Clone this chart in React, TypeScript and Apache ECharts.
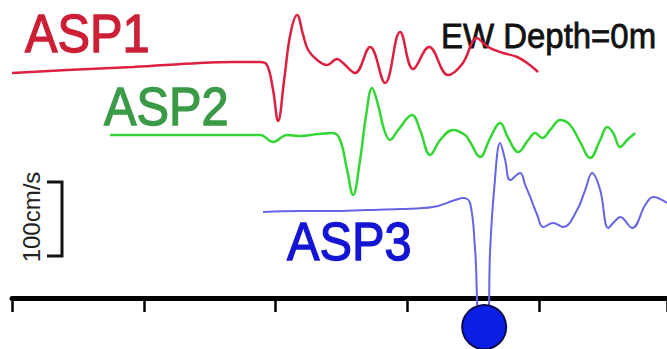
import React, { useEffect, useRef } from "react";
import * as echarts from "echarts";

// Time (s) and velocity (cm/s) samples, per station
const asp1Time = [0, 4.17, 9.18, 14.27, 16.77, 18.82, 19.35, 19.81, 20.19, 20.65, 21.11, 21.63, 22.09, 22.47, 23.15, 23.91, 24.67, 25.12, 26.03, 27.17, 28.31, 29.45, 30.44, 31.65, 33.09, 34.16, 35.29, 35.75, 36.28, 37.27, 38.33, 39.09, 39.92];
const asp1Vel = [-8.9, -5.0, -1.1, 4.2, 5.5, 5.5, 1.6, -31.3, -72.1, -18.2, 41.1, 67.4, 41.1, 21.3, 8.2, 1.6, 9.5, 4.2, -8.9, 25.3, -22.1, 44.9, -3.7, 25.3, -11.6, 2.9, 37.1, 30.5, 23.9, 17.4, 12.1, 4.2, -7.6];

const asp2Time = [7.44, 12.75, 18.82, 19.81, 20.87, 21.86, 23.23, 24.36, 24.9, 25.43, 25.88, 26.41, 26.87, 27.32, 27.78, 28.24, 28.69, 29.3, 30.36, 30.96, 31.73, 32.49, 33.47, 34.38, 34.76, 35.52, 36.28, 37.04, 37.65, 38.41, 39.17, 39.7, 40.23, 40.84, 41.59, 42.35, 43.11, 43.87, 44.63, 45.16, 45.62, 46.15, 46.68, 47.29];
const asp2Vel = [-0.5, -0.5, -0.5, -9.7, -0.5, -1.8, 0.8, 2.1, -7.1, -46.6, -79.5, -33.4, 25.8, 61.3, 38.9, 6.1, -7.1, 6.1, 25.8, 6.1, -26.8, -7.1, 6.1, -0.5, -9.7, -29.5, -4.5, 15.3, -4.5, -22.9, -7.1, 2.1, -4.5, 6.1, 19.2, 12.6, -9.7, -30.8, -7.1, 10.0, 2.1, -16.3, -7.1, 2.1];

const asp3Time = [19.05, 21.86, 24.36, 26.87, 29.45, 31.95, 33.62, 34.23, 34.76, 35.14, 35.52, 36.05, 36.28, 36.58, 37.04, 37.42, 37.8, 38.56, 38.94, 39.32, 39.85, 40.3, 41.06, 41.82, 42.88, 43.49, 44.02, 44.63, 45.24, 45.69, 46.15, 47.06, 48.05, 48.65, 49.7];
const asp3Vel = [-4.9, -3.6, -3.6, -2.2, -0.9, 1.7, 10.9, 13.6, 7.0, -54.9, -150.0, -150.0, -54.9, 24.1, 85.9, 63.6, 37.2, 46.4, 30.7, 14.9, -8.8, -24.6, -19.3, -24.6, -2.2, 24.1, 46.4, 24.1, -25.9, -18.0, -11.4, -25.9, 4.3, 14.9, 7.0];

// Display offsets (cm/s) that stack the traces
const stationNames = ["ASP1", "ASP2", "ASP3"];
const stationOffsets = [305, 215, 118];

// Marker below the axis
const markerTime = [35.83];
const markerVel = [-38.2];

const X_MIN = 0;
const X_MAX = 49.7;
const X_INTERVAL = 10;
const Y_MIN = 0;
const Y_MAX = 392.1;

const traceColors = ["#dd2040", "#33d633", "#6464e6"];
const labelColors = ["#cc1f36", "#3a9a46", "#1414d4"];

function build(times: number[], vels: number[], off: number) {
  return times.map((t, i) => [t, vels[i] + off]);
}

export default function App() {
  const ref = useRef<HTMLDivElement>(null);
  useEffect(() => {
    const chart = echarts.init(ref.current!, null, { renderer: "svg" });
    const traces = [
      [asp1Time, asp1Vel],
      [asp2Time, asp2Vel],
      [asp3Time, asp3Vel],
    ];
    const series: any[] = traces.map((tr, i) => ({
      type: "line",
      name: stationNames[i],
      data: build(tr[0], tr[1], stationOffsets[i]),
      showSymbol: false,
      smooth: 0.4,
      clip: false,
      lineStyle: { color: traceColors[i], width: i === 2 ? 2 : 2.5 },
      z: 3,
    }));
    series.push({
      type: "scatter",
      data: markerTime.map((t, i) => [t, markerVel[i]]),
      symbol: "circle",
      symbolSize: 44,
      clip: false,
      itemStyle: { color: "#0a1ee6", borderColor: "#0b0b4a", borderWidth: 2, opacity: 1 },
      z: 5,
    });
    const font = "'Liberation Sans', Arial, Helvetica, sans-serif";
    const labelPos = [
      [25, 34],
      [104, 107],
      [287, 242],
    ];
    const graphic: any[] = stationNames.map((n, i) => ({
      type: "text",
      x: labelPos[i][0],
      y: labelPos[i][1],
      scaleX: 0.92,
      z: 10,
      style: {
        text: n,
        fontSize: 53,
        fontFamily: font,
        fill: labelColors[i],
        stroke: labelColors[i],
        lineWidth: 1.3,
        align: "left",
        verticalAlign: "middle",
      },
    }));
    graphic.push(
      {
        type: "text",
        x: 441,
        y: 35,
        scaleX: 0.915,
        z: 1,
        style: {
          text: "EW Depth=0m",
          fontSize: 36,
          fontFamily: font,
          fill: "#111",
          stroke: "#111",
          lineWidth: 0.8,
          align: "left",
          verticalAlign: "middle",
        },
      },
      {
        type: "polyline",
        shape: { points: [[47, 182], [62, 182], [62, 256], [47, 256]] },
        style: { stroke: "#111", lineWidth: 3, fill: null },
      },
      {
        type: "text",
        x: 31,
        y: 217,
        rotation: Math.PI / 2,
        style: {
          text: "100cm/s",
          fontSize: 24,
          fontFamily: font,
          fill: "#222",
          align: "center",
          verticalAlign: "middle",
        },
      }
    );
    chart.setOption({
      animation: false,
      backgroundColor: "#ffffff",
      grid: { left: 12, right: 0, top: 0, bottom: 51 },
      xAxis: {
        type: "value",
        min: X_MIN,
        max: X_MAX,
        interval: X_INTERVAL,
        axisLine: { show: true, onZero: false, lineStyle: { color: "#000", width: 5 } },
        axisTick: { show: true, length: 14, lineStyle: { color: "#000", width: 2.5 } },
        axisLabel: { show: false },
        splitLine: { show: false },
      },
      yAxis: {
        type: "value",
        min: Y_MIN,
        max: Y_MAX,
        show: false,
        splitLine: { show: false },
      },
      series,
      graphic,
    });
    return () => chart.dispose();
  }, []);
  return (
    <div
      ref={ref}
      style={{ position: "absolute", left: 0, top: 0, width: 667, height: 349, background: "#fff" }}
    />
  );
}
